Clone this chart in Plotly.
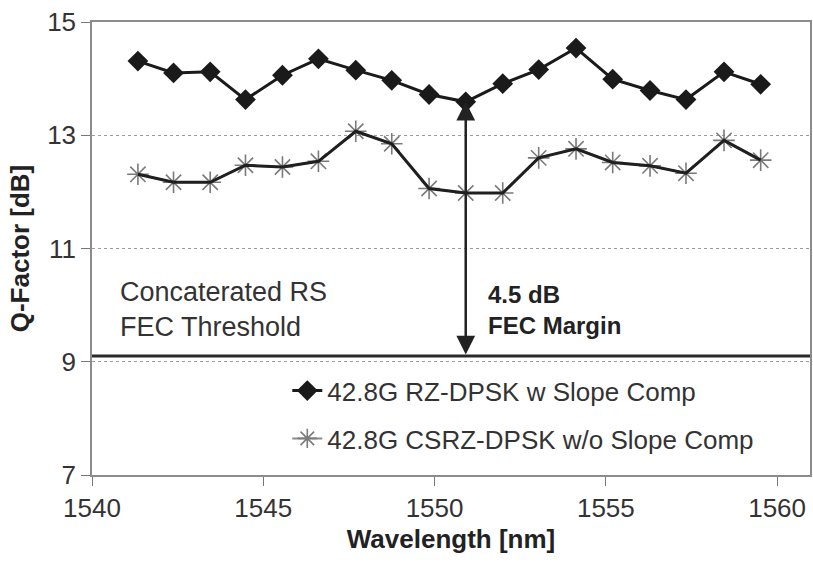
import plotly.graph_objects as go

# ---- data ----
wavelength = [1541.34, 1542.38, 1543.45, 1544.48, 1545.56, 1546.61, 1547.70, 1548.75, 1549.84,
              1550.91, 1551.99, 1553.04, 1554.13, 1555.20, 1556.29, 1557.34, 1558.45, 1559.52]
q_rz_dpsk = [14.31, 14.10, 14.12, 13.63, 14.06, 14.35, 14.15, 13.97, 13.72,
             13.59, 13.91, 14.16, 14.54, 13.99, 13.79, 13.63, 14.12, 13.90]
q_csrz_dpsk = [12.31, 12.17, 12.17, 12.47, 12.44, 12.54, 13.07, 12.85, 12.06,
               11.98, 11.98, 12.60, 12.76, 12.52, 12.46, 12.33, 12.91, 12.56]
series_names = ["42.8G RZ-DPSK w Slope Comp", "42.8G CSRZ-DPSK w/o Slope Comp"]
fec_threshold = 9.1
margin_wavelength = 1550.91
margin_top = 13.59
x_ticks = [1540, 1545, 1550, 1555, 1560]
y_ticks = [7, 9, 11, 13, 15]

FONT = "Liberation Sans, Arial, sans-serif"

fig = go.Figure()

fig.add_trace(go.Scatter(
    x=wavelength, y=q_rz_dpsk, name=series_names[0], mode="lines+markers",
    line=dict(color="#1a1a1a", width=3),
    marker=dict(symbol="diamond", size=16, color="#1a1a1a"),
    legendgroup="a",
))
fig.add_trace(go.Scatter(
    x=wavelength, y=q_csrz_dpsk, name=series_names[1], mode="lines+markers",
    line=dict(color="#8a8a8a", width=2),
    marker=dict(symbol="asterisk-open", size=18, color="#7a7a7a",
                line=dict(color="#7a7a7a", width=1.6)),
    legendgroup="b",
))
fig.add_trace(go.Scatter(
    x=wavelength, y=q_csrz_dpsk, mode="lines", showlegend=False,
    line=dict(color="#1f1f1f", width=3), hoverinfo="skip", legendgroup="b",
))

# FEC threshold line
fig.add_shape(type="line", xref="paper", x0=0, x1=1, yref="y", y0=fec_threshold, y1=fec_threshold,
              line=dict(color="#2a2a2a", width=3))

# double-headed margin arrow
fig.add_annotation(x=margin_wavelength, y=margin_top, ax=margin_wavelength, ay=fec_threshold,
                   xref="x", yref="y", axref="x", ayref="y", text="",
                   showarrow=True, arrowside="end+start", arrowhead=2, startarrowhead=2,
                   arrowsize=1.5, startarrowsize=1.5, arrowwidth=2.5, arrowcolor="#222222",
                   standoff=0, startstandoff=0)

fig.add_annotation(x=1540.75, y=9.92, xref="x", yref="y", xanchor="left", yanchor="middle",
                   align="left", showarrow=False,
                   text="Concaterated RS<br>FEC Threshold",
                   font=dict(family=FONT, size=27, color="#333333"))
fig.add_annotation(x=1551.5, y=9.92, xref="x", yref="y", xanchor="left", yanchor="middle",
                   align="left", showarrow=False,
                   text="<b>4.5 dB<br>FEC Margin</b>",
                   font=dict(family=FONT, size=24, color="#222222"))

fig.update_layout(
    width=813, height=567,
    margin=dict(l=92, r=1, t=22, b=92),
    paper_bgcolor="white", plot_bgcolor="white",
    font=dict(family=FONT, size=26, color="#333333"),
    showlegend=True,
    legend=dict(x=0.272, y=0.238, xanchor="left", yanchor="top",
                bgcolor="rgba(0,0,0,0)", borderwidth=0,
                font=dict(family=FONT, size=26, color="#333333"),
                tracegroupgap=11),
)

fig.update_xaxes(
    range=[1540, 1560.96], tickvals=x_ticks, ticktext=[str(t) for t in x_ticks],
    showgrid=False, zeroline=False,
    showline=True, linecolor="#8c8c8c", linewidth=1.5, mirror=True,
    ticks="outside", ticklen=9, tickcolor="#777777", tickwidth=1.3,
    tickfont=dict(family=FONT, size=26, color="#333333"),
    title=dict(text="<b>Wavelength [nm]</b>", font=dict(family=FONT, size=26, color="#222222"),
               standoff=8),
)
fig.update_yaxes(
    range=[7, 15], tickvals=y_ticks, ticktext=[str(t) for t in y_ticks],
    showgrid=True, gridcolor="#9a9a9a", gridwidth=1, griddash="dot",
    zeroline=False,
    showline=True, linecolor="#8c8c8c", linewidth=1.5, mirror=True,
    ticks="outside", ticklen=9, tickcolor="#777777", tickwidth=1.3,
    tickfont=dict(family=FONT, size=26, color="#333333"),
    title=dict(text="<b>Q-Factor [dB]</b>", font=dict(family=FONT, size=26, color="#222222"),
               standoff=10),
)

fig.write_html("out.html")
